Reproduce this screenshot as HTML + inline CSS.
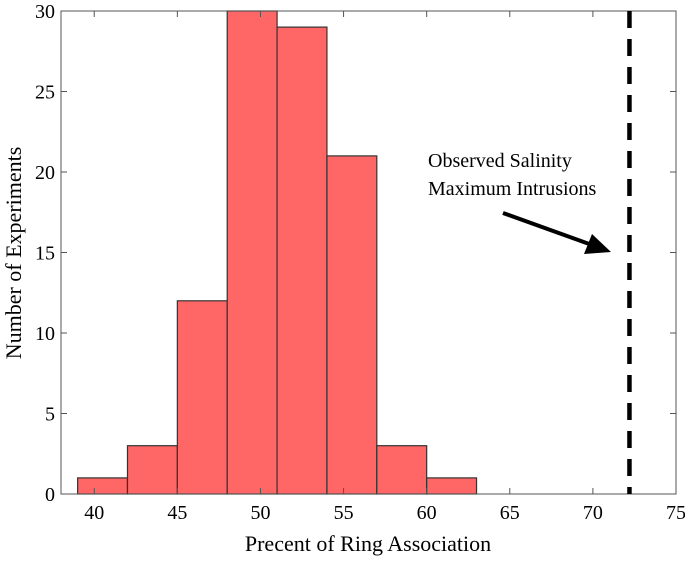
<!DOCTYPE html>
<html><head><meta charset="utf-8"><style>
body{margin:0;background:#fff;}
svg text{font-family:"Liberation Serif",serif;fill:#000;}
</style></head><body>
<svg width="685" height="559">
<g id="bars"></g>
<g id="axes"></g>
<text x="428" y="167" font-size="20">Observed Salinity</text>
<text x="428" y="195" font-size="20">Maximum Intrusions</text>
<g>
<line x1="503" y1="213" x2="592" y2="245" stroke="#000" stroke-width="4"/>
<polygon points="611,252 584,254 592,234" fill="#000"/>
</g>
<text x="368" y="551" font-size="22" text-anchor="middle">Precent of Ring Association</text>
<text transform="translate(21,253) rotate(-90)" font-size="22" text-anchor="middle">Number of Experiments</text>
</svg>
<script>
const binEdges=[39,42,45,48,51,54,57,60,63];
const counts=[1,3,12,30,29,21,3,1];
const xTicks=[40,45,50,55,60,65,70,75];
const yTicks=[0,5,10,15,20,25,30];
const observed=[72.2];
const L=61,R=676,T=11,B=494,XMIN=38,XMAX=75,YMAX=30;
const sx=v=>L+(v-XMIN)/(XMAX-XMIN)*(R-L);
const sy=v=>B-v/YMAX*(B-T);
const NS="http://www.w3.org/2000/svg";
const bars=document.getElementById('bars'),axes=document.getElementById('axes');
function mk(tag,attrs,parent){const e=document.createElementNS(NS,tag);for(const k in attrs)e.setAttribute(k,attrs[k]);parent.appendChild(e);return e;}
counts.forEach((c,i)=>{
 const r=mk('rect',{x:sx(binEdges[i]),y:sy(c),width:sx(binEdges[i+1])-sx(binEdges[i]),height:B-sy(c),fill:'#ff6666',stroke:'#333','stroke-width':1.2},bars);
 
 
});
const fr=mk('rect',{x:L,y:T,width:R-L,height:B-T,fill:'none',stroke:'#555','stroke-width':1},axes);


xTicks.forEach(t=>{
 mk('line',{x1:sx(t),x2:sx(t),y1:B,y2:B-6,stroke:'#555'},axes);
 mk('line',{x1:sx(t),x2:sx(t),y1:T,y2:T+6,stroke:'#555'},axes);
 const tx=mk('text',{x:sx(t),y:B+25,'font-size':20,'text-anchor':'middle'},axes);tx.textContent=t;
 
 
});
yTicks.forEach(t=>{
 mk('line',{x1:L,x2:L+6,y1:sy(t),y2:sy(t),stroke:'#555'},axes);
 mk('line',{x1:R,x2:R-6,y1:sy(t),y2:sy(t),stroke:'#555'},axes);
 const tx=mk('text',{x:L-6,y:sy(t)+7,'font-size':20,'text-anchor':'end'},axes);tx.textContent=t;
 
 
});
observed.forEach(v=>{
 const l=mk('line',{x1:sx(v),x2:sx(v),y1:T,y2:B,stroke:'#000','stroke-width':4.5,'stroke-dasharray':'17,11'},axes);
 
 
});
</script>
</body></html>
